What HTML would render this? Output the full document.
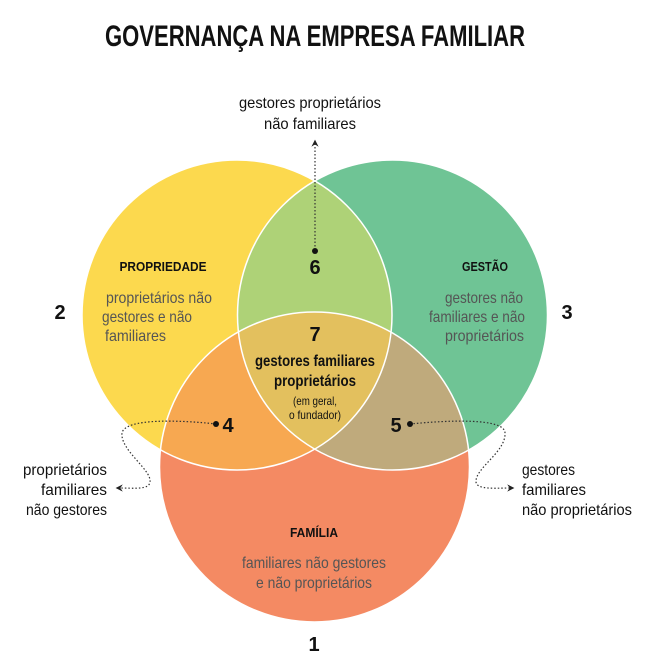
<!DOCTYPE html>
<html><head><meta charset="utf-8"><style>
html,body{margin:0;padding:0;background:#fff;}
svg{display:block;}
text{font-family:"Liberation Sans Narrow","Liberation Sans",sans-serif;}
.b{font-weight:bold;fill:#111;}
.g{fill:#555;font-size:16px;}
.k{fill:#111;font-size:16px;}
</style></head><body>
<svg width="648" height="669" viewBox="0 0 648 669" xmlns="http://www.w3.org/2000/svg">
<defs>
<clipPath id="cP"><circle cx="237" cy="315" r="155"/></clipPath>
<clipPath id="cG"><circle cx="392.5" cy="315" r="155"/></clipPath>
<clipPath id="cF"><circle cx="314.5" cy="467" r="155"/></clipPath>
<marker id="ar" markerWidth="8" markerHeight="8" refX="4" refY="4" orient="auto"><path d="M0,1 L6,4 L0,7 L2,4 Z" fill="#222"/></marker>
</defs>
<text x="315" y="46" text-anchor="middle" class="b" font-size="30" textLength="420" lengthAdjust="spacingAndGlyphs">GOVERNANÇA NA EMPRESA FAMILIAR</text>
<text x="310" y="108" text-anchor="middle" class="k" textLength="142" lengthAdjust="spacingAndGlyphs">gestores proprietários</text>
<text x="310" y="129" text-anchor="middle" class="k" textLength="92" lengthAdjust="spacingAndGlyphs">não familiares</text>

<circle cx="237" cy="315" r="155" fill="#fcd94e"/>
<circle cx="392.5" cy="315" r="155" fill="#6fc495"/>
<circle cx="314.5" cy="467" r="155" fill="#f48a63"/>
<g clip-path="url(#cP)"><circle cx="392.5" cy="315" r="155" fill="#aed277"/></g>
<g clip-path="url(#cP)"><circle cx="314.5" cy="467" r="155" fill="#f7a851"/></g>
<g clip-path="url(#cG)"><circle cx="314.5" cy="467" r="155" fill="#bfaa7c"/></g>
<g clip-path="url(#cP)"><g clip-path="url(#cG)"><circle cx="314.5" cy="467" r="155" fill="#e3c05e"/></g></g>
<g fill="none" stroke="#fff" stroke-width="1.5">
<circle cx="237" cy="315" r="155"/><circle cx="392.5" cy="315" r="155"/><circle cx="314.5" cy="467" r="155"/>
</g>

<g fill="none" stroke="#333" stroke-width="1.2" stroke-dasharray="1.5,2">
<path d="M315,250 L315,142" marker-end="url(#ar)"/>
<path d="M216,424 C180,420 125,418 122,433 C120,450 152,470 150,482 C149,490 135,488 118,488" marker-end="url(#ar)"/>
<path d="M410,424 C450,420 505,418 505,433 C506,452 475,468 476,482 C477,490 495,488 512,488" marker-end="url(#ar)"/>
</g>
<circle cx="315" cy="251" r="3" fill="#111"/>
<circle cx="216" cy="424" r="3" fill="#111"/>
<circle cx="410" cy="424" r="3" fill="#111"/>

<text x="163" y="271" text-anchor="middle" class="b" font-size="13" textLength="87" lengthAdjust="spacingAndGlyphs">PROPRIEDADE</text>
<text x="485" y="271" text-anchor="middle" class="b" font-size="13" textLength="46" lengthAdjust="spacingAndGlyphs">GESTÃO</text>
<text x="314" y="537" text-anchor="middle" class="b" font-size="13" textLength="48" lengthAdjust="spacingAndGlyphs">FAMÍLIA</text>

<text x="106" y="303" class="g" textLength="106" lengthAdjust="spacingAndGlyphs">proprietários não</text>
<text x="102" y="322" class="g" textLength="90" lengthAdjust="spacingAndGlyphs">gestores e não</text>
<text x="105" y="341" class="g" textLength="61" lengthAdjust="spacingAndGlyphs">familiares</text>
<text x="523" y="303" text-anchor="end" class="g" textLength="78" lengthAdjust="spacingAndGlyphs">gestores não</text>
<text x="525" y="322" text-anchor="end" class="g" textLength="96" lengthAdjust="spacingAndGlyphs">familiares e não</text>
<text x="524" y="341" text-anchor="end" class="g" textLength="79" lengthAdjust="spacingAndGlyphs">proprietários</text>
<text x="314" y="568" text-anchor="middle" class="g" textLength="144" lengthAdjust="spacingAndGlyphs">familiares não gestores</text>
<text x="314" y="588" text-anchor="middle" class="g" textLength="116" lengthAdjust="spacingAndGlyphs">e não proprietários</text>

<text x="315" y="274" text-anchor="middle" class="b" font-size="20">6</text>
<text x="315" y="341" text-anchor="middle" class="b" font-size="20">7</text>
<text x="315" y="366" text-anchor="middle" class="k" font-weight="bold" textLength="120" lengthAdjust="spacingAndGlyphs">gestores familiares</text>
<text x="315" y="386" text-anchor="middle" class="k" font-weight="bold" textLength="82" lengthAdjust="spacingAndGlyphs">proprietários</text>
<text x="315" y="405" text-anchor="middle" fill="#111" font-size="12" textLength="44" lengthAdjust="spacingAndGlyphs">(em geral,</text>
<text x="315" y="419" text-anchor="middle" fill="#111" font-size="12" textLength="52" lengthAdjust="spacingAndGlyphs">o fundador)</text>
<text x="228" y="432" text-anchor="middle" class="b" font-size="20">4</text>
<text x="396" y="432" text-anchor="middle" class="b" font-size="20">5</text>
<text x="60" y="319" text-anchor="middle" class="b" font-size="20">2</text>
<text x="567" y="319" text-anchor="middle" class="b" font-size="20">3</text>
<text x="314" y="651" text-anchor="middle" class="b" font-size="20">1</text>

<text x="107" y="475" text-anchor="end" class="k" textLength="84" lengthAdjust="spacingAndGlyphs">proprietários</text>
<text x="107" y="495" text-anchor="end" class="k" textLength="66" lengthAdjust="spacingAndGlyphs">familiares</text>
<text x="107" y="515" text-anchor="end" class="k" textLength="81" lengthAdjust="spacingAndGlyphs">não gestores</text>
<text x="522" y="475" class="k" textLength="53" lengthAdjust="spacingAndGlyphs">gestores</text>
<text x="522" y="495" class="k" textLength="64" lengthAdjust="spacingAndGlyphs">familiares</text>
<text x="522" y="515" class="k" textLength="110" lengthAdjust="spacingAndGlyphs">não proprietários</text>
</svg>
</body></html>
